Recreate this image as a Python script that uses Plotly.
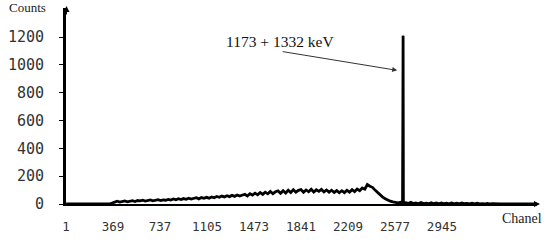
import plotly.graph_objects as go

# ---- data ----
# main spectrum sampled every 20 channels, starting at channel 1
step_counts = [
    0, 0, 0, 0, 0, 0, 0, 0, 0, 0, 0, 0, 0, 0, 0, 0, 0, 0,
    6, 16, 20, 14, 19, 22, 15,
    21, 24, 18, 25, 22, 27, 21, 26, 29, 23, 28, 31, 25, 30, 27,
    33, 28, 36, 30, 38, 32, 39, 34, 42, 35, 41, 45, 37, 46, 41,
    48, 42, 51, 45, 54, 48, 57, 51, 60, 53, 62, 55, 65, 57, 66,
    70, 58, 74, 64, 78, 66, 83, 69, 85, 73, 90, 74, 88, 94, 77,
    96, 79, 99, 83, 102, 85, 98, 104, 84, 101, 88, 106, 86, 102, 91,
    105, 87, 101, 85, 99, 83, 97, 81, 96, 82, 98, 85, 103, 89, 108,
    96, 115, 106, 140, 128, 120, 100, 82, 64, 50, 38, 28, 20, 15, 10, 8,
]
# photopeak (sum peak) region
peak_channels = [2621, 2631, 2637, 2639, 2641, 2643, 2651]
peak_counts = [12, 8, 14, 1210, 1210, 12, 8]
# tail after the peak, every 20 channels from 2661
tail_counts = [
    10, 4, 12, 3, 8, 2, 10, 3, 6, 2, 9, 2, 7, 1, 8, 2, 5, 1, 7, 1,
    6, 1, 8, 2, 4, 1, 6, 1, 5, 1, 3, 0, 4, 0, 2, 0, 2, 0, 0, 0,
    0, 0, 0, 0, 0, 0, 0, 0, 0, 0, 0, 0,
]
x_tick_vals = [1, 369, 737, 1105, 1473, 1841, 2209, 2577, 2945]
x_tick_text = ["1", "369", "737", "1105", "1473", "1841", "2209", "2577", "2945"]
y_tick_vals = [0, 200, 400, 600, 800, 1000, 1200]
y_tick_text = ["0", "200", "400", "600", "800", "1000", "1200"]

channels = (list(range(1, 1 + 20 * len(step_counts), 20))
            + peak_channels
            + list(range(2661, 2661 + 20 * len(tail_counts), 20)))
counts = step_counts + peak_counts + tail_counts

# ---- layout geometry ----
W, H = 548, 242
L, R, T, B = 62, 11, 8, 36
PW, PH = W - L - R, H - T - B


def px(x):
    return (x - L) / PW


def py(y):
    return (H - B - y) / PH


fig = go.Figure()
fig.add_trace(go.Scatter(x=channels, y=counts, mode="lines",
                         line=dict(color="black", width=2.8),
                         hoverinfo="skip", showlegend=False))
# thin spike line drawn on top
fig.add_trace(go.Scatter(x=peak_channels, y=peak_counts, mode="lines",
                         line=dict(color="black", width=1.6),
                         hoverinfo="skip", showlegend=False))

tickfont_y = dict(family="DejaVu Sans Mono", size=15, color="#333")
tickfont_x = dict(family="DejaVu Sans Mono", size=12.5, color="#333")

fig.update_layout(
    width=W, height=H,
    margin=dict(l=L, r=R, t=T, b=B, pad=0),
    paper_bgcolor="white", plot_bgcolor="white",
    xaxis=dict(range=[0, 3690], showgrid=False, zeroline=False,
               showline=True, linecolor="black", linewidth=2,
               tickmode="array", tickvals=x_tick_vals, ticktext=x_tick_text,
               ticks="", tickfont=tickfont_x, ticklabelstandoff=10),
    yaxis=dict(range=[0, 1410], showgrid=False, zeroline=False,
               showline=True, linecolor="black", linewidth=3,
               tickmode="array", tickvals=y_tick_vals, ticktext=y_tick_text,
               ticks="outside", ticklen=4, tickwidth=1, tickcolor="black",
               tickfont=tickfont_y, ticklabelstandoff=12),
    annotations=[
        dict(text="Counts", xref="paper", yref="paper", x=px(2), y=py(7),
             xanchor="left", yanchor="middle", showarrow=False,
             font=dict(family="Liberation Serif", size=13, color="#222")),
        dict(text="Chanel", xref="paper", yref="paper", x=px(500), y=py(221),
             xanchor="left", yanchor="middle", showarrow=False,
             font=dict(family="Liberation Serif", size=14, color="#222")),
        dict(text="1173 + 1332 keV", xref="paper", yref="paper", x=px(221), y=py(42),
             xanchor="left", yanchor="middle", showarrow=False,
             font=dict(family="Liberation Serif", size=15.5, color="#111")),
        dict(text="", xref="paper", yref="paper", x=px(396), y=py(71),
             ax=-116, ay=-19, showarrow=True, arrowhead=2, arrowsize=1,
             arrowwidth=1, arrowcolor="#333"),
        dict(text="", xref="paper", yref="paper", x=px(62.5), y=py(6),
             ax=0, ay=10, showarrow=True, arrowhead=2, arrowsize=1.2,
             arrowwidth=1, arrowcolor="black"),
        dict(text="", xref="paper", yref="paper", x=px(540), y=py(206),
             ax=-10, ay=0, showarrow=True, arrowhead=2, arrowsize=1.2,
             arrowwidth=1, arrowcolor="black"),
    ],
)

fig.write_html("out.html")
